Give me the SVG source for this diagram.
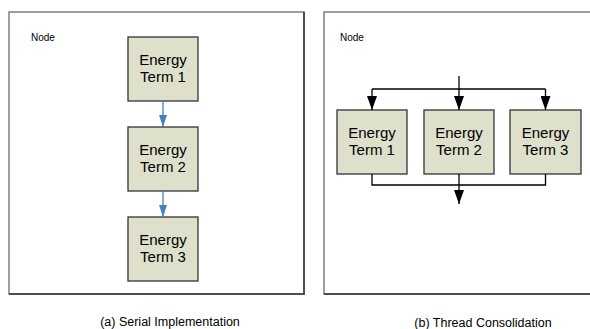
<svg xmlns="http://www.w3.org/2000/svg" width="590" height="329" viewBox="0 0 590 329">
<style>
.frame{fill:#fff;stroke:#808080;stroke-width:1.5}
.shade{stroke:#333;stroke-width:1.5;fill:none}
.box{fill:#dee0cc;stroke:#333;stroke-width:1.3}
.t{font-family:"Liberation Sans",Arial,sans-serif;fill:#000}
.bt{font-size:15px;text-anchor:middle}
.lab{font-size:10px}
.cap{font-size:12.5px;text-anchor:middle}
.blue{stroke:#4a7ebb;stroke-width:1.3;fill:none}
.blk{stroke:#000;stroke-width:1.3;fill:none}
</style>
<defs>
<marker id="ab" markerWidth="12" markerHeight="8" refX="12" refY="4" orient="auto" markerUnits="userSpaceOnUse" viewBox="0 0 12 8"><path d="M0,0 L12,4 L0,8 Z" fill="#4a7ebb"/></marker>
<marker id="ak" markerWidth="14" markerHeight="10" refX="14" refY="5" orient="auto" markerUnits="userSpaceOnUse" viewBox="0 0 14 10"><path d="M0,0 L14,5 L0,10 Z" fill="#000"/></marker>
</defs>
<g id="frameA">
<rect class="frame" x="9" y="12" width="295" height="282"/>
<path class="shade" d="M9,294 H304 V12"/>
<text class="t lab" x="31" y="41">Node</text>
</g>
<g id="frameB">
<rect class="frame" x="324" y="12" width="270" height="282"/>
<path class="shade" d="M324,294 H594"/>
<text class="t lab" x="340" y="41">Node</text>
</g>
<g id="a1"><rect class="box" x="128" y="37" width="70" height="64"/><text class="t bt" x="163" y="65">Energy</text><text class="t bt" x="163" y="82">Term 1</text></g>
<g id="a2"><rect class="box" x="128" y="127" width="70" height="64"/><text class="t bt" x="163" y="155">Energy</text><text class="t bt" x="163" y="172">Term 2</text></g>
<g id="a3"><rect class="box" x="128" y="217" width="70" height="64"/><text class="t bt" x="163" y="245">Energy</text><text class="t bt" x="163" y="262">Term 3</text></g>
<g id="b1"><rect class="box" x="337" y="110" width="70" height="64"/><text class="t bt" x="372" y="138">Energy</text><text class="t bt" x="372" y="155">Term 1</text></g>
<g id="b2"><rect class="box" x="424" y="110" width="70" height="64"/><text class="t bt" x="459" y="138">Energy</text><text class="t bt" x="459" y="155">Term 2</text></g>
<g id="b3"><rect class="box" x="510" y="110" width="71" height="64"/><text class="t bt" x="545.5" y="138">Energy</text><text class="t bt" x="545.5" y="155">Term 3</text></g>
<g id="connectors">
<line class="blue" x1="163" y1="101" x2="163" y2="127" marker-end="url(#ab)"/>
<line class="blue" x1="163" y1="191" x2="163" y2="217" marker-end="url(#ab)"/>
<line class="blk" x1="459" y1="76" x2="459" y2="110" marker-end="url(#ak)"/>
<line class="blk" x1="372" y1="89" x2="545.5" y2="89"/>
<line class="blk" x1="372" y1="89" x2="372" y2="110" marker-end="url(#ak)"/>
<line class="blk" x1="545.5" y1="89" x2="545.5" y2="110" marker-end="url(#ak)"/>
<path class="blk" d="M372,174 V185 H545.5 V174"/>
<line class="blk" x1="459" y1="174" x2="459" y2="204" marker-end="url(#ak)"/>
</g>
<text class="t cap" x="170" y="326">(a) Serial Implementation</text>
<text class="t cap" x="483" y="327">(b) Thread Consolidation</text>
</svg>
